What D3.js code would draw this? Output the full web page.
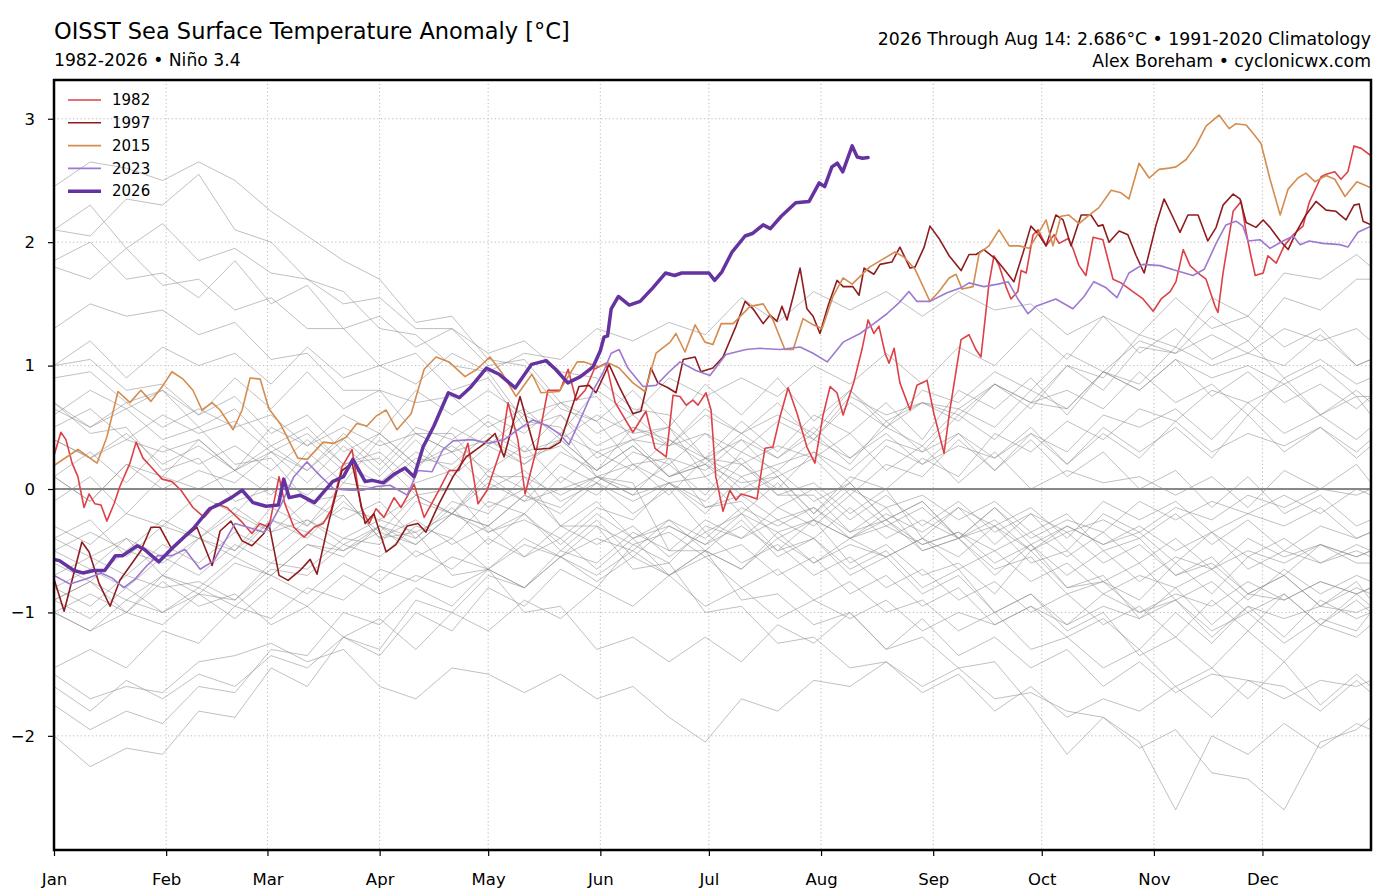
<!DOCTYPE html>
<html>
<head>
<meta charset="utf-8">
<script src="https://cdn.jsdelivr.net/npm/d3@7"></script>
<style>
  body { margin: 0; background: #fff; }
  text { font-family: "DejaVu Sans", sans-serif; }
</style>
</head>
<body>
<svg id="chart" width="1378" height="896"></svg>
<script>
// ---- data ----
const monthLabels = ["Jan", "Feb", "Mar", "Apr", "May", "Jun", "Jul", "Aug", "Sep", "Oct", "Nov", "Dec"];
const monthStartDays = [0, 31, 59, 90, 120, 151, 181, 212, 243, 273, 304, 334];
const yTicks = [-2, -1, 0, 1, 2, 3];

// grey years, sampled every 10 days (day of year)
const greyDays = [0, 10, 20, 30, 40, 50, 60, 70, 80, 90, 100, 110, 120, 130, 140, 150, 160, 170, 180, 190,
  200, 210, 220, 230, 240, 250, 260, 270, 280, 290, 300, 310, 320, 330, 340, 350, 360, 364];
const greyYears = [1983, 1984, 1985, 1986, 1987, 1988, 1989, 1990, 1991, 1992, 1993, 1994, 1995, 1996,
  1998, 1999, 2000, 2001, 2002, 2003, 2004, 2005, 2006, 2007, 2008, 2009, 2010, 2011, 2012, 2013, 2014,
  2016, 2017, 2018, 2019, 2020, 2021, 2022, 2024, 2025];
const greyValues = [
  [2.1, 2.3, 1.95, 2.15, 1.85, 1.95, 1.75, 1.7, 1.5, 1.55, 1.3, 1.3, 1.1, 1.2, 0.95, 0.9, 0.65, 0.6, 0.25, 0.2, -0.05, -0.05, -0.35, -0.15, -0.5, -0.4, -0.7, -0.45, -0.8, -0.7, -1.05, -0.8, -1.1, -0.85, -0.9, -0.75, -0.85, -0.8],
  [-0.5, -0.35, -0.5, -0.25, -0.4, -0.15, -0.35, -0.25, -0.45, -0.3, -0.55, -0.4, -0.65, -0.45, -0.55, -0.4, -0.5, -0.25, -0.4, -0.15, -0.3, -0.15, -0.4, -0.25, -0.5, -0.4, -0.65, -0.55, -0.85, -0.75, -1.0, -0.9, -1.15, -1.0, -1.25, -1.05, -1.15, -1.0],
  [-1.0, -1.15, -1.0, -1.1, -0.85, -1.05, -0.8, -0.95, -0.7, -0.85, -0.7, -0.8, -0.65, -0.8, -0.55, -0.7, -0.5, -0.7, -0.5, -0.65, -0.4, -0.6, -0.4, -0.55, -0.4, -0.55, -0.3, -0.5, -0.3, -0.45, -0.3, -0.5, -0.35, -0.55, -0.4, -0.6, -0.45, -0.5],
  [-0.5, -0.65, -0.4, -0.7, -0.4, -0.55, -0.25, -0.4, -0.1, -0.35, -0.05, -0.2, 0.1, -0.1, 0.2, 0.05, 0.3, 0.2, 0.45, 0.3, 0.55, 0.4, 0.7, 0.5, 0.8, 0.7, 0.95, 0.8, 1.1, 0.95, 1.2, 1.1, 1.25, 1.1, 1.3, 1.2, 1.3, 1.2],
  [1.0, 1.2, 0.9, 1.15, 1.0, 1.1, 0.85, 1.15, 0.9, 1.0, 0.85, 1.1, 0.95, 1.1, 1.05, 1.3, 1.2, 1.35, 1.25, 1.55, 1.35, 1.6, 1.45, 1.6, 1.4, 1.6, 1.45, 1.5, 1.25, 1.4, 1.1, 1.3, 1.05, 1.2, 0.9, 1.05, 0.85, 0.9],
  [0.7, 0.5, 0.65, 0.4, 0.5, 0.2, 0.25, -0.1, -0.05, -0.4, -0.35, -0.7, -0.65, -1.0, -0.95, -1.3, -1.2, -1.4, -1.2, -1.4, -1.1, -1.25, -1.0, -1.3, -1.2, -1.45, -1.4, -1.75, -2.15, -1.85, -2.05, -2.6, -2.0, -2.15, -1.9, -2.1, -1.9, -1.95],
  [-2.0, -2.25, -2.1, -2.15, -1.8, -1.85, -1.45, -1.6, -1.2, -1.3, -0.9, -1.0, -0.7, -0.8, -0.5, -0.6, -0.35, -0.5, -0.25, -0.4, -0.25, -0.4, -0.15, -0.4, -0.25, -0.4, -0.15, -0.4, -0.25, -0.35, -0.1, -0.25, -0.1, -0.2, -0.05, -0.2, 0.0, -0.05],
  [0.1, 0.3, 0.05, 0.35, 0.2, 0.35, 0.15, 0.4, 0.15, 0.45, 0.2, 0.35, 0.15, 0.35, 0.05, 0.3, 0.15, 0.4, 0.2, 0.45, 0.25, 0.45, 0.2, 0.55, 0.3, 0.45, 0.25, 0.5, 0.2, 0.5, 0.3, 0.5, 0.25, 0.6, 0.3, 0.5, 0.3, 0.4],
  [0.4, 0.25, 0.45, 0.2, 0.35, 0.15, 0.35, 0.15, 0.45, 0.2, 0.5, 0.4, 0.6, 0.45, 0.7, 0.55, 0.8, 0.5, 0.85, 0.6, 0.9, 0.55, 0.8, 0.5, 0.7, 0.55, 0.85, 0.7, 1.0, 0.8, 1.15, 1.1, 1.4, 1.2, 1.55, 1.45, 1.7, 1.7],
  [1.85, 2.0, 1.7, 1.75, 1.55, 1.85, 1.5, 1.65, 1.3, 1.4, 1.15, 1.3, 1.0, 1.05, 0.7, 0.75, 0.4, 0.5, 0.1, 0.25, -0.05, 0.05, -0.2, 0.0, -0.4, -0.15, -0.45, -0.2, -0.5, -0.2, -0.35, -0.15, -0.25, -0.05, -0.15, 0.0, -0.05, 0.0],
  [0.1, -0.1, 0.2, 0.1, 0.4, 0.15, 0.5, 0.35, 0.6, 0.45, 0.8, 0.6, 0.8, 0.6, 0.7, 0.45, 0.6, 0.35, 0.45, 0.2, 0.35, 0.25, 0.45, 0.15, 0.35, 0.05, 0.3, 0.0, 0.15, 0.05, 0.1, -0.05, 0.1, -0.15, 0.15, 0.0, 0.2, 0.05],
  [0.1, -0.1, 0.2, 0.0, 0.15, 0.05, 0.3, 0.15, 0.4, 0.15, 0.45, 0.3, 0.55, 0.3, 0.6, 0.35, 0.5, 0.4, 0.25, 0.55, 0.3, 0.6, 0.45, 0.7, 0.4, 0.8, 0.65, 0.9, 0.6, 0.95, 0.85, 1.15, 1.0, 1.1, 1.0, 1.25, 1.0, 1.05],
  [1.0, 1.05, 0.8, 0.85, 0.6, 0.75, 0.45, 0.6, 0.3, 0.45, 0.2, 0.3, 0.0, 0.15, -0.1, 0.05, -0.2, 0.0, -0.35, -0.2, -0.5, -0.4, -0.7, -0.55, -0.85, -0.7, -1.0, -0.85, -1.1, -0.95, -1.05, -0.9, -1.2, -0.95, -1.05, -0.95, -1.0, -0.95],
  [-0.9, -0.75, -0.9, -0.7, -0.8, -0.55, -0.7, -0.45, -0.55, -0.3, -0.45, -0.2, -0.35, -0.2, -0.45, -0.2, -0.4, -0.3, -0.45, -0.2, -0.35, -0.25, -0.4, -0.3, -0.45, -0.35, -0.5, -0.35, -0.55, -0.35, -0.6, -0.4, -0.65, -0.4, -0.55, -0.45, -0.6, -0.6],
  [2.1, 2.05, 2.35, 2.3, 2.55, 2.1, 2.0, 1.7, 1.6, 1.3, 1.25, 1.0, 0.95, 0.55, 0.5, 0.1, 0.05, -0.5, -0.5, -0.9, -0.85, -1.1, -1.0, -1.3, -1.05, -1.35, -1.2, -1.45, -1.3, -1.6, -1.4, -1.65, -1.5, -1.55, -1.6, -1.8, -1.55, -1.65],
  [-1.5, -1.7, -1.6, -1.65, -1.4, -1.35, -1.25, -1.4, -1.3, -1.6, -1.7, -1.45, -1.5, -1.65, -1.5, -1.7, -1.6, -1.85, -2.05, -1.7, -1.8, -1.55, -1.6, -1.4, -1.6, -1.45, -1.7, -1.65, -1.8, -1.85, -2.1, -1.95, -2.3, -2.35, -2.6, -2.05, -1.95, -1.85],
  [-1.75, -1.95, -1.8, -1.9, -1.6, -1.65, -1.3, -1.35, -1.0, -1.1, -0.8, -0.95, -0.65, -0.8, -0.55, -0.75, -0.55, -0.7, -0.5, -0.65, -0.35, -0.6, -0.45, -0.55, -0.4, -0.65, -0.5, -0.75, -0.6, -0.85, -0.7, -0.8, -0.65, -0.9, -0.65, -0.85, -0.7, -0.75],
  [-0.7, -0.55, -0.7, -0.45, -0.6, -0.35, -0.5, -0.25, -0.4, -0.25, -0.35, -0.2, -0.3, -0.05, -0.2, 0.05, -0.1, 0.05, -0.2, 0.1, -0.15, 0.0, -0.25, -0.05, -0.3, -0.1, -0.35, -0.2, -0.35, -0.25, -0.4, -0.2, -0.45, -0.25, -0.5, -0.3, -0.4, -0.35],
  [-0.1, 0.1, -0.2, 0.1, 0.0, 0.15, -0.05, 0.3, 0.05, 0.4, 0.15, 0.5, 0.35, 0.6, 0.45, 0.8, 0.6, 0.9, 0.75, 0.9, 0.75, 1.0, 0.85, 1.1, 0.85, 1.15, 1.0, 1.3, 1.05, 1.4, 1.25, 1.55, 1.3, 1.4, 1.15, 1.3, 1.0, 1.05],
  [0.9, 0.95, 0.7, 0.8, 0.5, 0.65, 0.35, 0.5, 0.2, 0.25, -0.05, 0.0, -0.35, -0.25, -0.4, -0.15, -0.25, 0.05, -0.1, 0.2, 0.0, 0.3, 0.05, 0.35, 0.2, 0.35, 0.25, 0.45, 0.2, 0.45, 0.25, 0.55, 0.3, 0.45, 0.35, 0.5, 0.25, 0.35],
  [0.4, 0.25, 0.4, 0.3, 0.4, 0.15, 0.3, 0.05, 0.35, 0.1, 0.4, 0.1, 0.35, 0.2, 0.45, 0.3, 0.4, 0.35, 0.6, 0.45, 0.7, 0.4, 0.75, 0.6, 0.7, 0.65, 0.85, 0.7, 0.8, 0.65, 0.95, 0.7, 0.85, 0.6, 0.9, 0.6, 0.75, 0.6],
  [0.65, 0.5, 0.7, 0.5, 0.65, 0.5, 0.6, 0.35, 0.5, 0.35, 0.45, 0.3, 0.4, 0.25, 0.35, 0.1, 0.2, 0.05, 0.1, -0.2, 0.05, -0.25, 0.0, -0.15, -0.05, -0.25, -0.1, -0.35, -0.2, -0.5, -0.4, -0.7, -0.55, -0.85, -0.7, -0.95, -0.8, -0.85],
  [-0.9, -0.75, -1.0, -0.7, -0.85, -0.6, -0.7, -0.45, -0.5, -0.3, -0.4, -0.1, -0.2, 0.1, -0.05, 0.1, 0.0, 0.2, -0.05, 0.3, 0.15, 0.4, 0.25, 0.5, 0.35, 0.65, 0.5, 0.8, 0.65, 0.95, 0.8, 1.05, 0.9, 1.0, 0.85, 1.0, 0.75, 0.75],
  [0.7, 0.45, 0.5, 0.15, 0.25, -0.1, 0.0, -0.3, -0.05, -0.4, -0.25, -0.45, -0.3, -0.55, -0.4, -0.65, -0.4, -0.7, -0.55, -0.8, -0.65, -0.9, -0.75, -1.0, -0.9, -1.15, -1.0, -1.3, -1.2, -1.45, -1.3, -1.6, -1.45, -1.7, -1.4, -1.75, -1.5, -1.6],
  [-1.6, -1.8, -1.55, -1.7, -1.5, -1.6, -1.35, -1.45, -1.2, -1.35, -1.0, -1.15, -0.8, -0.95, -0.65, -0.8, -0.45, -0.6, -0.3, -0.4, -0.15, -0.3, -0.05, -0.3, -0.15, -0.4, -0.25, -0.5, -0.35, -0.6, -0.45, -0.7, -0.6, -0.85, -0.7, -0.95, -0.75, -0.9],
  [-0.8, -0.95, -0.7, -0.8, -0.75, -0.9, -0.6, -0.65, -0.4, -0.45, -0.1, -0.2, 0.15, 0.0, 0.3, 0.15, 0.5, 0.35, 0.65, 0.45, 0.6, 0.45, 0.8, 0.55, 0.7, 0.6, 0.85, 0.65, 1.0, 0.9, 1.25, 1.15, 1.55, 1.4, 1.75, 1.7, 1.9, 1.8],
  [1.3, 1.5, 1.4, 1.45, 1.25, 1.35, 1.05, 1.1, 0.8, 0.8, 0.45, 0.45, 0.1, 0.1, -0.3, -0.3, -0.65, -0.6, -1.0, -0.95, -1.25, -1.2, -1.45, -1.4, -1.65, -1.5, -1.8, -1.6, -1.85, -1.7, -1.8, -1.6, -1.85, -1.55, -1.7, -1.55, -1.6, -1.55],
  [-1.45, -1.3, -1.45, -1.15, -1.25, -0.95, -1.05, -0.8, -0.9, -0.65, -0.75, -0.55, -0.65, -0.4, -0.55, -0.3, -0.45, -0.35, -0.55, -0.45, -0.7, -0.55, -0.85, -0.7, -0.95, -0.8, -1.1, -0.95, -1.2, -1.05, -1.3, -1.0, -1.25, -0.95, -1.2, -0.9, -1.05, -1.0],
  [-0.8, -0.65, -0.8, -0.55, -0.7, -0.45, -0.6, -0.35, -0.5, -0.35, -0.45, -0.2, -0.3, -0.05, -0.15, 0.1, -0.05, 0.25, 0.15, 0.4, 0.25, 0.5, 0.25, 0.45, 0.2, 0.45, 0.15, 0.4, 0.1, 0.3, 0.0, 0.15, -0.15, 0.1, -0.2, -0.05, -0.3, -0.25],
  [-0.4, -0.25, -0.55, -0.3, -0.4, -0.2, -0.35, -0.1, -0.25, -0.1, -0.4, -0.15, -0.45, -0.2, -0.5, -0.25, -0.55, -0.3, -0.45, -0.3, -0.5, -0.25, -0.4, -0.2, -0.35, -0.15, -0.3, -0.15, -0.4, -0.1, -0.25, -0.1, -0.35, -0.2, -0.3, -0.15, -0.4, -0.35],
  [-0.4, -0.55, -0.4, -0.55, -0.3, -0.5, -0.15, -0.3, 0.05, 0.0, 0.25, 0.2, 0.45, 0.3, 0.4, 0.15, 0.35, 0.1, 0.2, -0.05, 0.1, -0.2, 0.1, 0.0, 0.25, 0.1, 0.45, 0.3, 0.55, 0.4, 0.65, 0.55, 0.8, 0.7, 0.85, 0.6, 0.8, 0.7],
  [2.45, 2.65, 2.6, 2.5, 2.65, 2.5, 2.25, 2.05, 1.85, 1.7, 1.35, 1.4, 1.05, 1.0, 0.65, 0.55, 0.2, 0.25, -0.15, -0.1, -0.4, -0.25, -0.6, -0.45, -0.7, -0.6, -0.85, -0.5, -0.8, -0.75, -0.9, -0.6, -0.85, -0.55, -0.7, -0.45, -0.55, -0.5],
  [-0.3, -0.45, -0.2, -0.3, -0.05, -0.2, 0.1, -0.05, 0.2, 0.05, 0.3, 0.15, 0.4, 0.2, 0.4, 0.15, 0.35, 0.1, 0.25, 0.0, 0.15, -0.1, 0.05, -0.25, -0.1, -0.4, -0.3, -0.6, -0.5, -0.75, -0.6, -0.9, -0.75, -1.0, -0.85, -1.1, -0.9, -1.0],
  [-0.9, -1.05, -0.8, -1.0, -0.85, -0.9, -0.65, -0.7, -0.45, -0.55, -0.3, -0.4, -0.1, -0.2, 0.1, -0.05, 0.2, -0.05, 0.25, 0.1, 0.2, 0.3, 0.15, 0.4, 0.3, 0.6, 0.4, 0.7, 0.65, 0.95, 0.8, 1.05, 0.75, 0.95, 0.7, 0.85, 0.65, 0.75],
  [0.6, 0.8, 0.65, 0.8, 0.6, 0.9, 0.65, 0.95, 0.65, 0.8, 0.7, 0.75, 0.5, 0.65, 0.4, 0.6, 0.45, 0.5, 0.25, 0.4, 0.1, 0.25, -0.05, 0.2, 0.1, 0.4, 0.15, 0.45, 0.3, 0.6, 0.5, 0.65, 0.4, 0.7, 0.45, 0.6, 0.4, 0.5],
  [0.5, 0.65, 0.4, 0.6, 0.45, 0.55, 0.3, 0.45, 0.2, 0.3, 0.05, 0.15, -0.15, 0.0, -0.3, -0.1, -0.4, -0.25, -0.5, -0.25, -0.55, -0.4, -0.65, -0.5, -0.8, -0.65, -1.0, -0.85, -1.15, -1.0, -1.35, -1.2, -1.45, -1.15, -1.4, -1.1, -1.2, -1.1],
  [-1.0, -1.15, -0.9, -1.0, -0.8, -0.95, -0.7, -0.85, -0.6, -0.75, -0.5, -0.65, -0.4, -0.55, -0.3, -0.45, -0.3, -0.55, -0.35, -0.6, -0.45, -0.7, -0.55, -0.8, -0.65, -0.9, -0.75, -1.0, -0.85, -1.1, -0.95, -1.2, -0.9, -1.15, -0.85, -1.1, -0.85, -0.95],
  [-1.0, -0.85, -1.0, -0.75, -0.95, -0.85, -1.1, -0.95, -1.2, -1.05, -1.3, -1.0, -1.15, -0.9, -1.05, -0.8, -0.95, -0.7, -0.95, -0.8, -1.05, -0.9, -1.05, -0.9, -1.15, -1.0, -1.1, -0.95, -1.1, -0.85, -1.0, -0.85, -0.95, -0.75, -0.9, -0.75, -0.85, -0.8],
  [1.8, 1.7, 1.95, 1.65, 1.7, 1.45, 1.55, 1.3, 1.3, 1.0, 1.1, 0.8, 0.9, 0.5, 0.6, 0.25, 0.4, 0.1, 0.2, 0.05, 0.1, -0.2, 0.05, -0.25, -0.1, -0.4, -0.15, -0.45, -0.3, -0.45, -0.35, -0.6, -0.35, -0.65, -0.5, -0.6, -0.5, -0.55],
  [-0.6, -0.75, -0.5, -0.6, -0.4, -0.5, -0.25, -0.35, -0.15, -0.25, -0.05, -0.2, 0.05, -0.1, 0.0, 0.1, -0.05, 0.05, -0.15, -0.05, -0.25, -0.15, -0.35, -0.25, -0.45, -0.35, -0.6, -0.45, -0.7, -0.5, -0.75, -0.55, -0.65, -0.5, -0.6, -0.45, -0.55, -0.5]
];

// highlighted years: [day of year, anomaly]
const s1982 = [[0,0.27],[1.9,0.46],[3.3,0.40],[5,0.21],[6.6,0.10],[8.3,-0.15],[9.7,-0.04],[11.3,-0.12],[13,-0.13],[14.6,-0.26],[16.6,-0.12],[18.2,0.02],[21,0.21],[22.7,0.38],[24.6,0.25],[26.8,0.18],[29.9,0.08],[32.6,0.06],[35.1,-0.01],[38.4,-0.15],[41.5,-0.23],[44.8,-0.12],[47.8,-0.15],[51.7,-0.26],[54.7,-0.36],[56.9,-0.28],[59.4,-0.31],[62.2,0.10],[63.8,-0.12],[66.3,-0.31],[69.1,-0.39],[71.9,-0.31],[74.4,-0.28],[76.6,-0.17],[79.6,0.18],[82.4,0.32],[84.9,-0.15],[87.1,-0.28],[89,-0.16],[91.2,-0.23],[94,-0.07],[95.9,-0.15],[99.5,0.04],[102.3,-0.23],[106.4,-0.01],[109.2,0.15],[111.9,0.15],[114.4,0.37],[117.2,-0.12],[119.7,-0.01],[123.5,0.32],[125.5,0.70],[128.2,0.40],[130.2,-0.04],[133.5,0.34],[136.5,0.80],[139.9,0.80],[142.1,0.97],[144.3,0.72],[146.8,0.80],[149.3,0.97],[152.6,1.02],[155.1,0.70],[160,0.46],[163.6,0.63],[166.1,0.33],[169.2,0.26],[171.1,0.76],[173,0.75],[174.7,0.68],[176.6,0.72],[178,0.68],[180.2,0.78],[181.6,0.64],[182.9,0.10],[184.9,-0.18],[186.8,-0.01],[188.5,-0.09],[189.9,-0.04],[192.4,-0.06],[194.3,-0.08],[196.5,0.33],[198.7,0.34],[200.7,0.59],[202.9,0.82],[205.4,0.61],[208.1,0.34],[210.3,0.21],[212.5,0.59],[214.5,0.83],[216.4,0.78],[218.1,0.60],[221.1,0.87],[223.3,1.13],[225,1.37],[226.6,1.26],[228,1.32],[229.7,1.10],[230.8,1.02],[232.2,1.14],[233.8,0.86],[236.6,0.64],[238.5,0.84],[241.3,0.88],[243.2,0.61],[246,0.29],[247.6,0.64],[250.7,1.21],[252.9,1.25],[254.8,1.13],[256.2,1.07],[258.4,1.66],[259.8,1.89],[261.2,1.81],[263.1,1.64],[264.5,1.54],[266.4,1.60],[267.3,1.77],[268.7,1.75],[270.6,2.06],[272,2.10],[274.2,1.97],[276.4,2.06],[277.8,1.99],[280.3,2.03],[281.6,1.95],[283.3,1.81],[285.2,1.73],[287.2,2.04],[289.9,2.02],[292.7,1.70],[294.9,1.67],[298.2,1.60],[301,1.54],[303.8,1.44],[306,1.54],[308.5,1.60],[310.1,1.68],[312.1,1.94],[314,1.81],[316.2,1.75],[318.4,1.70],[320.9,1.48],[321.7,1.43],[323.1,1.75],[325.9,2.25],[328.1,2.33],[329.5,2.08],[330.8,1.89],[332,1.73],[334.2,1.75],[335.5,1.89],[337.8,1.83],[340,1.97],[342.5,2.06],[345.2,2.13],[346.9,2.32],[350.2,2.53],[351.6,2.55],[354,2.57],[355.7,2.51],[357.6,2.57],[359.3,2.78],[361.3,2.76],[364,2.70]];

const s1997 = [[0,-0.73],[2.8,-0.99],[5.5,-0.68],[7.7,-0.43],[9.7,-0.51],[12.4,-0.76],[15.5,-0.95],[18.2,-0.74],[21.6,-0.60],[24,-0.50],[26.8,-0.31],[29.3,-0.31],[32.6,-0.49],[36.2,-0.39],[39.5,-0.31],[43.7,-0.62],[45.9,-0.34],[48.9,-0.26],[52,-0.42],[54.7,-0.46],[58,-0.36],[59.4,-0.28],[62.2,-0.70],[64.7,-0.74],[68,-0.66],[70.8,-0.57],[72.7,-0.69],[76,-0.26],[79.6,0.15],[82.4,0.21],[86,-0.28],[88.4,-0.20],[91.8,-0.51],[94.5,-0.45],[97.6,-0.30],[100.6,-0.28],[102.8,-0.35],[106.4,-0.12],[110.3,0.10],[113.9,0.26],[118.6,0.36],[121.9,0.45],[124.4,0.26],[128.8,0.75],[132.9,0.32],[137.1,0.33],[139.9,0.38],[145.1,0.83],[147.9,0.84],[149.8,0.78],[153.4,1.01],[156.2,0.83],[160,0.61],[162.2,0.63],[165,0.98],[166.9,0.86],[169.7,0.82],[171.9,0.78],[173.9,1.05],[177.2,1.07],[178.8,0.95],[182.1,0.98],[184.9,1.07],[188.5,1.32],[191,1.52],[193.2,1.46],[196,1.34],[197.9,1.41],[199.8,1.36],[201.2,1.48],[202.6,1.37],[204.3,1.56],[206.2,1.79],[208.1,1.46],[209.8,1.40],[211.7,1.26],[213.9,1.48],[216.4,1.69],[218.1,1.64],[220.8,1.64],[222.5,1.57],[223.9,1.79],[226.6,1.74],[228.3,1.82],[231.6,1.84],[233.8,1.96],[236.6,1.79],[238,1.80],[240.5,1.96],[242.1,2.13],[244.6,2.03],[247.4,1.89],[250.7,1.77],[252.9,1.90],[254.8,1.90],[257,1.94],[260.4,1.86],[262.6,1.78],[265.3,1.68],[267.8,1.91],[270,2.13],[272.2,2.06],[274.2,1.97],[276.9,2.22],[278.9,2.18],[281.1,1.97],[283.9,2.22],[286.6,2.22],[288.6,2.13],[289.9,2.14],[291.6,2.00],[294.4,2.09],[296.8,2.06],[299.1,1.89],[301.3,1.75],[304.6,2.14],[306.8,2.35],[309.3,2.20],[311.2,2.08],[313.4,2.22],[316.2,2.22],[318.9,2.01],[321.2,2.12],[323.1,2.30],[325.9,2.39],[327.8,2.35],[329.5,2.16],[332.2,2.12],[334.2,2.18],[336.1,2.12],[338.9,2.01],[341.1,1.94],[343.3,2.08],[346,2.22],[348.8,2.33],[351.6,2.26],[354.3,2.25],[357.1,2.18],[359.3,2.30],[360.7,2.31],[361.8,2.17],[364,2.14]];

const s2015 = [[0,0.19],[6.6,0.32],[11.9,0.21],[14.6,0.42],[17.7,0.79],[21,0.70],[24,0.80],[26.8,0.71],[29.9,0.83],[32.6,0.95],[35.7,0.89],[38.4,0.80],[40.9,0.64],[43.7,0.70],[45.9,0.64],[49.5,0.48],[52,0.64],[54.2,0.90],[57,0.89],[59.4,0.65],[62.7,0.52],[67.4,0.25],[70,0.24],[74.4,0.38],[77.4,0.37],[80.7,0.42],[83.7,0.53],[86.5,0.51],[89,0.59],[91.8,0.64],[94.8,0.48],[98.7,0.61],[102.3,0.97],[105.6,1.07],[109.2,1.03],[113.6,0.91],[116.9,0.97],[120.5,1.07],[123.8,0.94],[127.7,0.75],[132.1,0.93],[134.6,0.78],[139.6,0.79],[144.6,1.03],[146.5,1.03],[148.4,1.01],[150.6,0.99],[153.4,1.02],[156.2,0.98],[160,0.86],[163.3,0.79],[166.4,1.10],[170.3,1.19],[171.9,1.26],[174.4,1.11],[177.2,1.33],[179.9,1.19],[182.1,1.17],[184.4,1.34],[187.7,1.34],[192.4,1.48],[196,1.50],[198.7,1.37],[202,1.13],[204.3,1.13],[207,1.38],[209.8,1.33],[212.3,1.30],[215.3,1.56],[218.1,1.71],[220.6,1.66],[225.5,1.80],[232.4,1.92],[234.9,1.88],[238,1.78],[242.1,1.52],[244.6,1.60],[247.4,1.71],[249.3,1.74],[251,1.62],[254,1.64],[255.7,1.91],[258.4,1.97],[261.2,2.10],[264,1.97],[266.7,1.97],[269.5,1.95],[272.2,2.08],[274.2,2.18],[276.1,1.97],[278.3,2.21],[280.5,2.22],[283.3,2.15],[286.1,2.22],[288.8,2.28],[292.2,2.42],[294.9,2.40],[297.1,2.35],[299.9,2.64],[302.7,2.52],[305.4,2.59],[308.2,2.60],[310.1,2.61],[312.9,2.67],[315.6,2.78],[318.4,2.94],[322,3.03],[324.8,2.92],[326.7,2.96],[329.5,2.95],[332,2.86],[333.6,2.80],[336.1,2.51],[338.9,2.22],[341.1,2.43],[343.8,2.52],[346,2.56],[348.5,2.49],[351.6,2.54],[354,2.51],[356.8,2.37],[360.1,2.49],[364,2.44]];

const s2023 = [[0,-0.70],[4.4,-0.77],[8.8,-0.73],[13,-0.68],[16,-0.72],[19.3,-0.80],[22.4,-0.73],[25.7,-0.62],[28.7,-0.54],[32.6,-0.54],[36.2,-0.49],[40.4,-0.65],[44.2,-0.58],[46.7,-0.45],[50,-0.28],[53.6,-0.31],[58,-0.35],[59.4,-0.31],[62.7,-0.13],[66.3,0.10],[69.9,0.22],[73.8,0.10],[77.4,0.00],[81.8,-0.01],[85.4,-0.01],[89,0.02],[92.9,0.03],[97.6,-0.05],[100.6,0.15],[104.5,0.14],[107.5,0.32],[110.3,0.39],[115.5,0.40],[120.2,0.37],[124.4,0.40],[128.2,0.48],[132.4,0.56],[136.5,0.51],[139.9,0.44],[142.3,0.36],[145.1,0.54],[149,0.80],[151.7,0.94],[154,1.10],[156.2,1.13],[158.6,0.98],[162.8,0.83],[166.4,0.84],[169.7,0.94],[173,1.03],[177.4,0.96],[181.3,0.92],[185.7,1.09],[191.3,1.13],[195.1,1.14],[200.7,1.13],[206.2,1.15],[209.8,1.10],[213.7,1.03],[218.1,1.19],[222.8,1.26],[226.6,1.34],[230.2,1.42],[233.6,1.51],[236.3,1.60],[238.5,1.52],[242.1,1.52],[246.8,1.59],[250.7,1.63],[252.9,1.67],[257,1.64],[260.9,1.66],[263.7,1.68],[266.4,1.54],[269.2,1.42],[271.4,1.48],[276.9,1.54],[281.6,1.46],[284.7,1.56],[287.4,1.68],[290.8,1.63],[293.8,1.55],[297.1,1.75],[301,1.82],[305.7,1.81],[310.1,1.77],[314.8,1.73],[317.9,1.78],[321.2,1.99],[323.9,2.14],[326.7,2.17],[328.6,2.13],[330,2.01],[333.3,2.02],[336.1,1.95],[339.7,2.01],[342.5,2.05],[344.4,1.98],[346.9,2.01],[350.7,1.99],[355.4,1.98],[357.6,1.96],[360.4,2.08],[364,2.13]];

const s2026 = [[0,-0.57],[1.5,-0.58],[5.5,-0.66],[8,-0.68],[11,-0.66],[14,-0.66],[17,-0.54],[19,-0.54],[23,-0.46],[25,-0.49],[29,-0.59],[33,-0.47],[38.5,-0.32],[43,-0.16],[46,-0.12],[49,-0.07],[52,-0.01],[55,-0.11],[58.6,-0.14],[62,-0.13],[63.5,0.08],[65,-0.07],[68,-0.05],[72,-0.11],[77,0.06],[80,0.10],[82.6,0.24],[86,0.06],[88,0.07],[91,0.05],[94,0.12],[97,0.17],[99.5,0.10],[102,0.34],[105,0.51],[109,0.78],[112,0.74],[115,0.82],[119.5,0.98],[123,0.93],[127.5,0.82],[132,1.01],[136,1.04],[138.6,0.97],[142,0.86],[145.5,0.91],[149,0.99],[151,1.12],[152,1.23],[153,1.24],[154,1.46],[156,1.56],[159,1.49],[162,1.52],[165.5,1.63],[169,1.75],[171.5,1.73],[173.5,1.75],[177,1.75],[181,1.75],[182.6,1.69],[184.6,1.76],[187.4,1.92],[191,2.05],[193,2.07],[196,2.14],[198,2.11],[201,2.21],[205,2.32],[208.7,2.33],[211.5,2.48],[213,2.45],[215,2.61],[216.5,2.64],[218,2.57],[220.6,2.78],[222,2.69],[223.5,2.68],[225,2.686]];

const highlights = [
  { label: "1982", data: s1982, color: "#dc4148", width: 1.6 },
  { label: "1997", data: s1997, color: "#8e1c1f", width: 1.6 },
  { label: "2015", data: s2015, color: "#d48c4f", width: 1.6 },
  { label: "2023", data: s2023, color: "#9d79d0", width: 1.6 },
  { label: "2026", data: s2026, color: "#6533a0", width: 3.5 }
];

// ---- layout ----
const svg = d3.select("#chart");
const plotL = 54, plotR = 1371, plotT = 80, plotB = 850;

const x = d3.scaleLinear().domain([0, 364]).range([plotL, plotR]);
const y = d3.scaleLinear().domain([-2.925, 3.314]).range([plotB, plotT]);

svg.append("defs").append("clipPath").attr("id", "plotclip")
  .append("rect").attr("x", plotL).attr("y", plotT).attr("width", plotR - plotL).attr("height", plotB - plotT);

// grid
const grid = svg.append("g");
grid.selectAll(".vgrid").data(monthStartDays.slice(1)).join("line")
  .attr("x1", d => x(d)).attr("x2", d => x(d)).attr("y1", plotT).attr("y2", plotB)
  .attr("stroke", "#b3b3b3").attr("stroke-width", 0.9).attr("stroke-dasharray", "1.2,2.6");
grid.selectAll(".hgrid").data(yTicks).join("line")
  .attr("x1", plotL).attr("x2", plotR).attr("y1", d => y(d)).attr("y2", d => y(d))
  .attr("stroke", "#b3b3b3").attr("stroke-width", 0.9).attr("stroke-dasharray", "1.2,2.6");

const plot = svg.append("g").attr("clip-path", "url(#plotclip)");

// grey years
const greyLine = d3.line().x(d => x(d[0])).y(d => y(d[1]));
greyValues.forEach((vals) => {
  const pts = greyDays.map((d, i) => [d, vals[i]]).filter(p => p[1] !== undefined);
  plot.append("path").attr("d", greyLine(pts))
    .attr("fill", "none").attr("stroke", "#8c8c8c").attr("stroke-opacity", 0.55)
    .attr("stroke-width", 1).attr("stroke-linejoin", "round");
});

// zero line
plot.append("line").attr("x1", plotL).attr("x2", plotR).attr("y1", y(0)).attr("y2", y(0))
  .attr("stroke", "#888").attr("stroke-width", 1.8);

// highlighted years
const hLine = d3.line().x(d => x(d[0])).y(d => y(d[1]));
highlights.forEach(h => {
  plot.append("path").attr("d", hLine(h.data))
    .attr("fill", "none").attr("stroke", h.color).attr("stroke-width", h.width)
    .attr("stroke-linejoin", "round").attr("stroke-linecap", "round");
});

// axes
const yAxis = svg.append("g").attr("transform", `translate(${plotL},0)`)
  .call(d3.axisLeft(y).tickValues(yTicks).tickFormat(d3.format("d")).tickSize(6).tickPadding(13));
yAxis.select(".domain").remove();
yAxis.selectAll("line").attr("stroke", "#000").attr("stroke-width", 1.2);
yAxis.selectAll("text").attr("font-size", 16.5).attr("fill", "#000")
  .attr("font-family", "DejaVu Sans, sans-serif");

const xAxis = svg.append("g").attr("transform", `translate(0,${plotB})`)
  .call(d3.axisBottom(x).tickValues(monthStartDays).tickFormat((d, i) => monthLabels[i]).tickSize(6).tickPadding(17));
xAxis.select(".domain").remove();
xAxis.selectAll("line").attr("stroke", "#000").attr("stroke-width", 1.2);
xAxis.selectAll("text").attr("font-size", 16.5).attr("fill", "#000")
  .attr("font-family", "DejaVu Sans, sans-serif");

// frame
svg.append("rect").attr("x", plotL).attr("y", plotT).attr("width", plotR - plotL).attr("height", plotB - plotT)
  .attr("fill", "none").attr("stroke", "#000").attr("stroke-width", 2.5);

// legend
const legend = svg.append("g");
highlights.forEach((h, i) => {
  const ly = 100 + i * 22.8;
  legend.append("line").attr("x1", 68).attr("x2", 101).attr("y1", ly).attr("y2", ly)
    .attr("stroke", h.color).attr("stroke-width", h.width);
  legend.append("text").attr("x", 112).attr("y", ly).attr("dy", "0.35em")
    .attr("font-size", 15).attr("fill", "#000").text(h.label);
});

// titles
svg.append("text").attr("x", 54).attr("y", 39).attr("font-size", 22.5).attr("fill", "#000")
  .text("OISST Sea Surface Temperature Anomaly [°C]");
svg.append("text").attr("x", 54).attr("y", 66).attr("font-size", 17.2).attr("fill", "#000")
  .text("1982-2026 • Niño 3.4");
svg.append("text").attr("x", 1371).attr("y", 45).attr("font-size", 17.3).attr("fill", "#000")
  .attr("text-anchor", "end").text("2026 Through Aug 14: 2.686°C • 1991-2020 Climatology");
svg.append("text").attr("x", 1371).attr("y", 67).attr("font-size", 17.3).attr("fill", "#000")
  .attr("text-anchor", "end").text("Alex Boreham • cyclonicwx.com");
</script>
</body>
</html>
